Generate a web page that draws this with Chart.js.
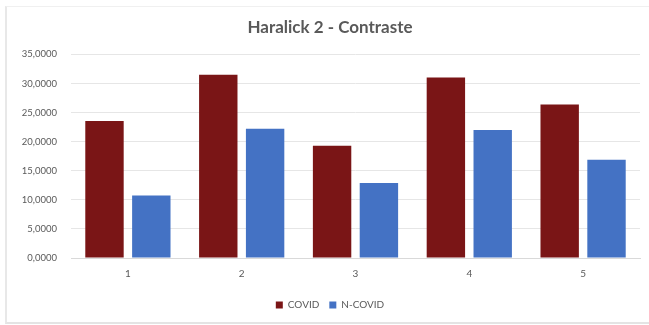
<!DOCTYPE html>
<html>
<head>
<meta charset="utf-8">
<script src="https://cdn.jsdelivr.net/npm/chart.js@4/dist/chart.umd.min.js"></script>
<style>
  html, body { margin: 0; padding: 0; background: #fff; }
  #wrap { position: relative; width: 649px; height: 325px; overflow: hidden; }
  #frame {
    position: absolute; left: 5px; top: 6px; width: 650px; height: 318px;
    border-left: 2px solid #e8e8e8; border-top: 1px solid #f0f0f0; border-bottom: 2px solid #e4e4e4;
    box-sizing: border-box; pointer-events: none;
  }
  canvas { position: absolute; left: 0; top: 0; }
</style>
</head>
<body>
<div id="wrap">
  <canvas id="c" width="649" height="325"></canvas>
  <div id="frame"></div>
</div>
<script>
// Haralick feature 2 (contrast) per group
const categories = ['1', '2', '3', '4', '5'];
const covid = [23.55, 31.5, 19.3, 31.05, 26.4];
const nCovid = [10.75, 22.2, 12.9, 22.0, 16.9];
const yTicks = [0, 5, 10, 15, 20, 25, 30, 35];

const fmt = v => v.toFixed(4).replace('.', ',');
const font = "Lato, 'Open Sans', sans-serif";
const grey = '#595959';

new Chart(document.getElementById('c'), {
  type: 'bar',
  data: {
    labels: categories,
    datasets: [
      { label: 'COVID', data: covid, backgroundColor: '#7a1516', borderWidth: 0,
        categoryPercentage: 0.823, barPercentage: 0.82 },
      { label: 'N-COVID', data: nCovid, backgroundColor: '#4472c4', borderWidth: 0,
        categoryPercentage: 0.823, barPercentage: 0.82 }
    ]
  },
  options: {
    responsive: false,
    animation: false,
    layout: { padding: { top: 17, right: 9, bottom: 5, left: 20 } },
    plugins: {
      title: {
        display: true, text: 'Haralick 2 - Contraste', color: grey,
        font: { family: font, size: 17, weight: 'bold' },
        padding: { top: 0, bottom: 17 }
      },
      legend: {
        position: 'bottom',
        labels: {
          color: grey, font: { family: font, size: 10 },
          boxWidth: 7, boxHeight: 7, padding: 10
        }
      },
      tooltip: { enabled: false }
    },
    scales: {
      x: {
        grid: { display: false, drawTicks: false },
        border: { display: true, color: '#d9d9d9' },
        ticks: { color: grey, font: { family: font, size: 10 }, padding: 10 }
      },
      y: {
        min: 0, max: 35,
        afterBuildTicks: s => { s.ticks = yTicks.map(v => ({ value: v })); },
        afterFit: s => { s.width = 51; },
        grid: { color: '#e6e6e6', drawTicks: false },
        border: { display: false },
        ticks: { color: grey, font: { family: font, size: 9.5 }, padding: 14,
                 callback: v => fmt(v) }
      }
    }
  }
});
</script>
</body>
</html>
